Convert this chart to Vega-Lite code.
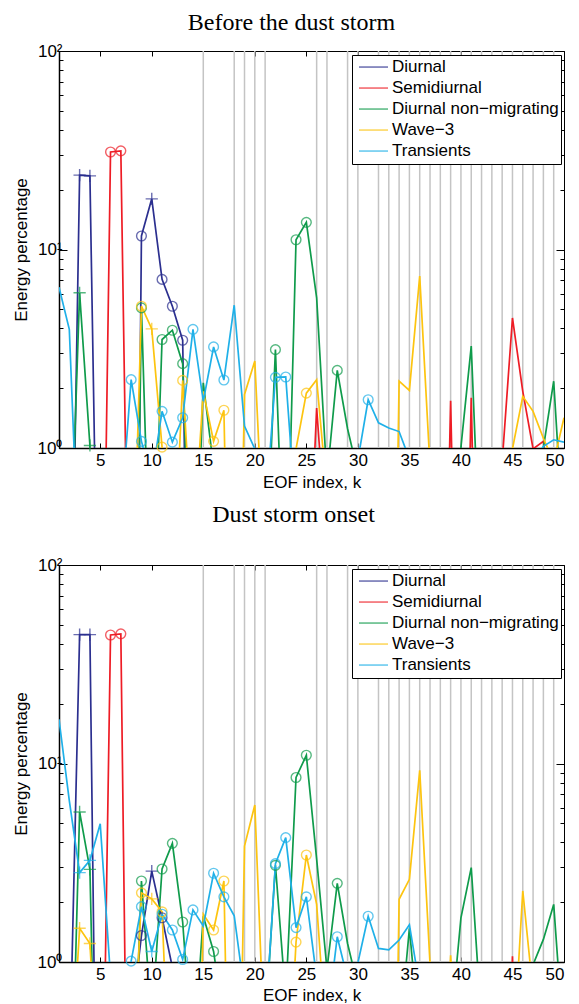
{
  "$schema": "https://vega.github.io/schema/vega-lite/v6.json",
  "padding": {"left": 11, "top": 10, "right": 0, "bottom": 0},
  "spacing": 11,
  "config": {
    "view": {"stroke": "black", "strokeWidth": 1},
    "axis": {"labelFont": "Liberation Sans", "labelFontSize": 17, "labelColor": "black", "titleFont": "Liberation Sans", "titleFontSize": 17, "titleFontWeight": "normal", "titleColor": "black", "grid": false, "tickColor": "black", "domainColor": "black"},
    "title": {"font": "Liberation Serif", "fontSize": 24, "fontWeight": "normal", "color": "black"},
    "legend": {"orient": "top-right", "offset": 3.5, "title": null, "symbolType": "stroke", "symbolSize": 841, "symbolStrokeWidth": 1.5, "labelFont": "Liberation Sans", "labelFontSize": 17, "labelColor": "black", "fillColor": "white", "strokeColor": "black", "padding": 2, "rowPadding": 0, "clipHeight": 20.1, "labelOffset": 3, "symbolOffset": 4, "labelLimit": 300}
  },
  "datasets": {
    "g": [{"k":15},{"k":18},{"k":19},{"k":20},{"k":21},{"k":26},{"k":27},{"k":29},{"k":30},{"k":32},{"k":33},{"k":34},{"k":35},{"k":36},{"k":37},{"k":38},{"k":39},{"k":40},{"k":41},{"k":42},{"k":43},{"k":44},{"k":45},{"k":46},{"k":47},{"k":48},{"k":49}],
    "top": [
      {"s":"Diurnal","k":2,"v":0.02},
      {"s":"Diurnal","k":3,"v":23.7,"m":"+"},
      {"s":"Diurnal","k":4,"v":23.5,"m":"+"},
      {"s":"Diurnal","k":5,"v":0.02},
      {"s":"Diurnal","k":8,"v":0.00005},
      {"s":"Diurnal","k":9,"v":11.7,"m":"o"},
      {"s":"Diurnal","k":10,"v":18.0,"m":"+"},
      {"s":"Diurnal","k":11,"v":7.07,"m":"o"},
      {"s":"Diurnal","k":12,"v":5.18,"m":"o"},
      {"s":"Diurnal","k":13,"v":3.49,"m":"o"},
      {"s":"Diurnal","k":14,"v":0.002},
      {"s":"Semidiurnal","k":5,"v":0.009},
      {"s":"Semidiurnal","k":6,"v":31.0,"m":"o"},
      {"s":"Semidiurnal","k":7,"v":31.4,"m":"o"},
      {"s":"Semidiurnal","k":8,"v":0.015},
      {"s":"Semidiurnal","k":25,"v":0.1},
      {"s":"Semidiurnal","k":26,"v":1.59},
      {"s":"Semidiurnal","k":27,"v":0.3},
      {"s":"Semidiurnal","k":38,"v":0.007},
      {"s":"Semidiurnal","k":39,"v":1.73},
      {"s":"Semidiurnal","k":40,"v":0.007},
      {"s":"Semidiurnal","k":41,"v":1.79},
      {"s":"Semidiurnal","k":42,"v":0.007},
      {"s":"Semidiurnal","k":44,"v":0.85},
      {"s":"Semidiurnal","k":45,"v":4.52},
      {"s":"Semidiurnal","k":46,"v":1.93},
      {"s":"Semidiurnal","k":47,"v":0.99},
      {"s":"Semidiurnal","k":48,"v":1.08},
      {"s":"Semidiurnal","k":49,"v":0.3},
      {"s":"Diurnal non−migrating","k":2,"v":0.17},
      {"s":"Diurnal non−migrating","k":3,"v":6.05,"m":"+"},
      {"s":"Diurnal non−migrating","k":4,"v":1.03,"m":"+"},
      {"s":"Diurnal non−migrating","k":5,"v":0.01},
      {"s":"Diurnal non−migrating","k":8,"v":0.0015},
      {"s":"Diurnal non−migrating","k":9,"v":5.08,"m":"o"},
      {"s":"Diurnal non−migrating","k":10,"v":0.1},
      {"s":"Diurnal non−migrating","k":11,"v":3.52,"m":"o"},
      {"s":"Diurnal non−migrating","k":12,"v":3.92,"m":"o"},
      {"s":"Diurnal non−migrating","k":13,"v":2.66,"m":"o"},
      {"s":"Diurnal non−migrating","k":14,"v":0.07},
      {"s":"Diurnal non−migrating","k":15,"v":2.13},
      {"s":"Diurnal non−migrating","k":16,"v":0.8},
      {"s":"Diurnal non−migrating","k":21,"v":0.18},
      {"s":"Diurnal non−migrating","k":22,"v":3.13,"m":"o"},
      {"s":"Diurnal non−migrating","k":23,"v":0.12},
      {"s":"Diurnal non−migrating","k":24,"v":11.2,"m":"o"},
      {"s":"Diurnal non−migrating","k":25,"v":13.7,"m":"o"},
      {"s":"Diurnal non−migrating","k":26,"v":5.71},
      {"s":"Diurnal non−migrating","k":27,"v":0.7},
      {"s":"Diurnal non−migrating","k":28,"v":2.46,"m":"o"},
      {"s":"Diurnal non−migrating","k":29,"v":1.25},
      {"s":"Diurnal non−migrating","k":30,"v":0.75},
      {"s":"Diurnal non−migrating","k":39,"v":0.01},
      {"s":"Diurnal non−migrating","k":40,"v":1.01},
      {"s":"Diurnal non−migrating","k":41,"v":3.26},
      {"s":"Diurnal non−migrating","k":42,"v":0.17},
      {"s":"Diurnal non−migrating","k":47,"v":0.5},
      {"s":"Diurnal non−migrating","k":48,"v":1.0},
      {"s":"Diurnal non−migrating","k":49,"v":2.17},
      {"s":"Diurnal non−migrating","k":50,"v":0.31},
      {"s":"Wave−3","k":8,"v":0.085},
      {"s":"Wave−3","k":9,"v":5.18,"m":"o"},
      {"s":"Wave−3","k":10,"v":3.98,"m":"+"},
      {"s":"Wave−3","k":11,"v":1.01,"m":"o"},
      {"s":"Wave−3","k":12,"v":0.16},
      {"s":"Wave−3","k":13,"v":2.19,"m":"o"},
      {"s":"Wave−3","k":14,"v":0.3},
      {"s":"Wave−3","k":15,"v":1.93},
      {"s":"Wave−3","k":16,"v":1.08,"m":"o"},
      {"s":"Wave−3","k":17,"v":1.55,"m":"o"},
      {"s":"Wave−3","k":18,"v":0.005},
      {"s":"Wave−3","k":19,"v":1.86},
      {"s":"Wave−3","k":20,"v":2.74},
      {"s":"Wave−3","k":21,"v":0.22},
      {"s":"Wave−3","k":23,"v":0.01},
      {"s":"Wave−3","k":24,"v":0.99},
      {"s":"Wave−3","k":25,"v":1.89,"m":"o"},
      {"s":"Wave−3","k":26,"v":2.21},
      {"s":"Wave−3","k":27,"v":0.59},
      {"s":"Wave−3","k":33,"v":0.001},
      {"s":"Wave−3","k":34,"v":2.17},
      {"s":"Wave−3","k":35,"v":1.95},
      {"s":"Wave−3","k":36,"v":7.34},
      {"s":"Wave−3","k":37,"v":0.8},
      {"s":"Wave−3","k":44,"v":0.5},
      {"s":"Wave−3","k":45,"v":0.99},
      {"s":"Wave−3","k":46,"v":1.82},
      {"s":"Wave−3","k":47,"v":1.53},
      {"s":"Wave−3","k":48,"v":1.12},
      {"s":"Wave−3","k":49,"v":0.85},
      {"s":"Wave−3","k":50,"v":1.42},
      {"s":"Transients","k":1,"v":6.46},
      {"s":"Transients","k":2,"v":3.96},
      {"s":"Transients","k":3,"v":0.2},
      {"s":"Transients","k":7,"v":0.45},
      {"s":"Transients","k":8,"v":2.21,"m":"o"},
      {"s":"Transients","k":9,"v":1.08,"m":"o"},
      {"s":"Transients","k":10,"v":0.7},
      {"s":"Transients","k":11,"v":1.53,"m":"o"},
      {"s":"Transients","k":12,"v":1.07,"m":"o"},
      {"s":"Transients","k":13,"v":1.42,"m":"o"},
      {"s":"Transients","k":14,"v":3.96,"m":"o"},
      {"s":"Transients","k":15,"v":1.72},
      {"s":"Transients","k":16,"v":3.23,"m":"o"},
      {"s":"Transients","k":17,"v":2.2,"m":"o"},
      {"s":"Transients","k":18,"v":5.24},
      {"s":"Transients","k":19,"v":1.29},
      {"s":"Transients","k":20,"v":0.99},
      {"s":"Transients","k":21,"v":0.44},
      {"s":"Transients","k":22,"v":2.27,"m":"o"},
      {"s":"Transients","k":23,"v":2.28,"m":"o"},
      {"s":"Transients","k":24,"v":0.44},
      {"s":"Transients","k":30,"v":0.87},
      {"s":"Transients","k":31,"v":1.75,"m":"o"},
      {"s":"Transients","k":32,"v":1.34},
      {"s":"Transients","k":33,"v":1.26},
      {"s":"Transients","k":34,"v":1.21},
      {"s":"Transients","k":35,"v":0.88},
      {"s":"Transients","k":47,"v":0.85},
      {"s":"Transients","k":48,"v":1.02},
      {"s":"Transients","k":49,"v":1.1},
      {"s":"Transients","k":50,"v":1.07}
    ],
    "bot": [
      {"s":"Diurnal","k":2,"v":0.26},
      {"s":"Diurnal","k":3,"v":44.6,"m":"+"},
      {"s":"Diurnal","k":4,"v":44.6,"m":"+"},
      {"s":"Diurnal","k":5,"v":0.003},
      {"s":"Diurnal","k":8,"v":0.49},
      {"s":"Diurnal","k":9,"v":1.36,"m":"o"},
      {"s":"Diurnal","k":10,"v":2.87,"m":"+"},
      {"s":"Diurnal","k":11,"v":1.67,"m":"o"},
      {"s":"Diurnal","k":12,"v":0.94},
      {"s":"Diurnal","k":13,"v":0.5},
      {"s":"Semidiurnal","k":5,"v":0.022},
      {"s":"Semidiurnal","k":6,"v":44.4,"m":"o"},
      {"s":"Semidiurnal","k":7,"v":45.0,"m":"o"},
      {"s":"Semidiurnal","k":8,"v":0.003},
      {"s":"Semidiurnal","k":44,"v":0.01},
      {"s":"Semidiurnal","k":45,"v":1.07},
      {"s":"Semidiurnal","k":46,"v":0.01},
      {"s":"Diurnal non−migrating","k":2,"v":0.07},
      {"s":"Diurnal non−migrating","k":3,"v":5.7,"m":"+"},
      {"s":"Diurnal non−migrating","k":4,"v":2.93,"m":"+"},
      {"s":"Diurnal non−migrating","k":5,"v":0.014},
      {"s":"Diurnal non−migrating","k":8,"v":0.11},
      {"s":"Diurnal non−migrating","k":9,"v":2.56,"m":"o"},
      {"s":"Diurnal non−migrating","k":10,"v":0.5},
      {"s":"Diurnal non−migrating","k":11,"v":2.94,"m":"o"},
      {"s":"Diurnal non−migrating","k":12,"v":3.96,"m":"o"},
      {"s":"Diurnal non−migrating","k":13,"v":1.59,"m":"o"},
      {"s":"Diurnal non−migrating","k":14,"v":0.3},
      {"s":"Diurnal non−migrating","k":15,"v":1.7},
      {"s":"Diurnal non−migrating","k":16,"v":1.13,"m":"o"},
      {"s":"Diurnal non−migrating","k":17,"v":0.5},
      {"s":"Diurnal non−migrating","k":21,"v":0.47},
      {"s":"Diurnal non−migrating","k":22,"v":3.07,"m":"o"},
      {"s":"Diurnal non−migrating","k":23,"v":0.65},
      {"s":"Diurnal non−migrating","k":24,"v":8.5,"m":"o"},
      {"s":"Diurnal non−migrating","k":25,"v":11.0,"m":"o"},
      {"s":"Diurnal non−migrating","k":26,"v":3.3},
      {"s":"Diurnal non−migrating","k":27,"v":0.92},
      {"s":"Diurnal non−migrating","k":28,"v":2.49,"m":"o"},
      {"s":"Diurnal non−migrating","k":29,"v":1.24},
      {"s":"Diurnal non−migrating","k":30,"v":0.75},
      {"s":"Diurnal non−migrating","k":34,"v":0.4},
      {"s":"Diurnal non−migrating","k":35,"v":1.48},
      {"s":"Diurnal non−migrating","k":36,"v":0.4},
      {"s":"Diurnal non−migrating","k":39,"v":0.46},
      {"s":"Diurnal non−migrating","k":40,"v":1.67},
      {"s":"Diurnal non−migrating","k":41,"v":2.99},
      {"s":"Diurnal non−migrating","k":42,"v":0.48},
      {"s":"Diurnal non−migrating","k":47,"v":0.97},
      {"s":"Diurnal non−migrating","k":48,"v":1.3},
      {"s":"Diurnal non−migrating","k":49,"v":1.95},
      {"s":"Diurnal non−migrating","k":50,"v":0.37},
      {"s":"Wave−3","k":2,"v":0.2},
      {"s":"Wave−3","k":3,"v":1.48,"m":"+"},
      {"s":"Wave−3","k":4,"v":1.24,"m":"+"},
      {"s":"Wave−3","k":5,"v":0.15},
      {"s":"Wave−3","k":8,"v":0.15},
      {"s":"Wave−3","k":9,"v":2.23,"m":"o"},
      {"s":"Wave−3","k":10,"v":2.08,"m":"+"},
      {"s":"Wave−3","k":11,"v":1.79,"m":"o"},
      {"s":"Wave−3","k":12,"v":0.1},
      {"s":"Wave−3","k":14,"v":0.007},
      {"s":"Wave−3","k":15,"v":1.74},
      {"s":"Wave−3","k":16,"v":1.45,"m":"o"},
      {"s":"Wave−3","k":17,"v":2.56,"m":"o"},
      {"s":"Wave−3","k":18,"v":0.005},
      {"s":"Wave−3","k":19,"v":3.84},
      {"s":"Wave−3","k":20,"v":6.18},
      {"s":"Wave−3","k":21,"v":0.3},
      {"s":"Wave−3","k":23,"v":0.13},
      {"s":"Wave−3","k":24,"v":1.26,"m":"o"},
      {"s":"Wave−3","k":25,"v":3.46,"m":"o"},
      {"s":"Wave−3","k":26,"v":1.95},
      {"s":"Wave−3","k":27,"v":0.37},
      {"s":"Wave−3","k":33,"v":0.001},
      {"s":"Wave−3","k":34,"v":2.07},
      {"s":"Wave−3","k":35,"v":2.61},
      {"s":"Wave−3","k":36,"v":9.24},
      {"s":"Wave−3","k":37,"v":0.98},
      {"s":"Wave−3","k":38,"v":0.1},
      {"s":"Wave−3","k":39,"v":1.08},
      {"s":"Wave−3","k":40,"v":0.1},
      {"s":"Wave−3","k":45,"v":0.29},
      {"s":"Wave−3","k":46,"v":2.28},
      {"s":"Wave−3","k":47,"v":0.7},
      {"s":"Transients","k":1,"v":16.7},
      {"s":"Transients","k":2,"v":6.5},
      {"s":"Transients","k":3,"v":2.82,"m":"+"},
      {"s":"Transients","k":4,"v":3.25,"m":"+"},
      {"s":"Transients","k":5,"v":4.97},
      {"s":"Transients","k":6,"v":0.84},
      {"s":"Transients","k":7,"v":0.3},
      {"s":"Transients","k":8,"v":1.01,"m":"o"},
      {"s":"Transients","k":9,"v":1.9,"m":"o"},
      {"s":"Transients","k":10,"v":1.13,"m":"+"},
      {"s":"Transients","k":11,"v":1.74,"m":"o"},
      {"s":"Transients","k":12,"v":1.45,"m":"o"},
      {"s":"Transients","k":13,"v":1.03,"m":"o"},
      {"s":"Transients","k":14,"v":1.83,"m":"o"},
      {"s":"Transients","k":15,"v":1.52},
      {"s":"Transients","k":16,"v":2.8,"m":"o"},
      {"s":"Transients","k":17,"v":2.13,"m":"o"},
      {"s":"Transients","k":18,"v":1.71},
      {"s":"Transients","k":19,"v":0.7},
      {"s":"Transients","k":21,"v":0.47},
      {"s":"Transients","k":22,"v":3.13,"m":"o"},
      {"s":"Transients","k":23,"v":4.23,"m":"o"},
      {"s":"Transients","k":24,"v":1.49,"m":"o"},
      {"s":"Transients","k":25,"v":2.13,"m":"o"},
      {"s":"Transients","k":26,"v":0.83},
      {"s":"Transients","k":27,"v":0.5},
      {"s":"Transients","k":28,"v":1.34,"m":"o"},
      {"s":"Transients","k":29,"v":0.82},
      {"s":"Transients","k":30,"v":0.99},
      {"s":"Transients","k":31,"v":1.7,"m":"o"},
      {"s":"Transients","k":32,"v":1.17},
      {"s":"Transients","k":33,"v":1.15},
      {"s":"Transients","k":34,"v":1.29},
      {"s":"Transients","k":35,"v":1.54},
      {"s":"Transients","k":36,"v":0.75}
    ]
  },
  "resolve": {"scale": {"color": "independent", "shape": "independent", "size": "independent"}, "legend": {"color": "independent"}},
  "vconcat": [
    {
      "width": 505, "height": 397,
      "title": {"text": "Before the dust storm", "dx": -20, "offset": 7},
      "resolve": {"axis": {"x": "independent", "y": "independent"}},
      "layer": [
        {
          "data": {"name": "g"},
          "mark": {"type": "rule", "color": "#c4c4c4", "strokeWidth": 1.5},
          "encoding": {
            "x": {"field": "k", "type": "quantitative", "scale": {"domain": [1, 50], "nice": false, "zero": false},
                  "axis": {"orient": "top", "values": [5,10,15,20,25,30,35,40,45,50], "labels": false, "title": null, "tickSize": -5, "domain": false}}
          }
        },
        {
          "data": {"name": "top"},
          "mark": {"type": "line", "clip": true, "strokeWidth": 1.7},
          "encoding": {
            "x": {"field": "k", "type": "quantitative", "scale": {"domain": [1, 50], "nice": false, "zero": false},
                  "axis": {"orient": "bottom", "values": [5,10,15,20,25,30,35,40,45,50], "title": "EOF index, k", "tickSize": -5, "labelPadding": 9, "titlePadding": 6, "domainWidth": 1.5}},
            "y": {"field": "v", "type": "quantitative", "scale": {"type": "log", "domain": [1, 100], "nice": false},
                  "axis": {"orient": "left", "values": [1,2,3,4,5,6,7,8,9,10,20,30,40,50,60,70,80,90,100], "title": "Energy percentage",
                           "labelExpr": "datum.value == 1 ? '10⁰' : datum.value == 10 ? '10¹' : datum.value == 100 ? '10²' : ''",
                           "tickSize": {"condition": {"test": "datum.value == 1 || datum.value == 10 || datum.value == 100", "value": -8}, "value": -4},
                           "labelPadding": 5, "titlePadding": 7, "domainWidth": 1.5}},
            "color": {"field": "s", "type": "nominal",
                      "scale": {"domain": ["Diurnal", "Semidiurnal", "Diurnal non−migrating", "Wave−3", "Transients"], "range": ["#2b2f8f", "#ee1c25", "#0f9b4b", "#fdc40f", "#1fb0e8"]}},
            "order": {"field": "k", "type": "quantitative"}
          }
        },
        {
          "data": {"name": "top"},
          "transform": [{"filter": "isValid(datum.m)"}],
          "mark": {"type": "point", "filled": false, "strokeWidth": 1.4},
          "encoding": {
            "x": {"field": "k", "type": "quantitative", "scale": {"domain": [1, 50], "nice": false, "zero": false}, "axis": null},
            "y": {"field": "v", "type": "quantitative", "scale": {"type": "log", "domain": [1, 100], "nice": false},
                  "axis": {"orient": "right", "values": [1,2,3,4,5,6,7,8,9,10,20,30,40,50,60,70,80,90,100], "labels": false, "title": null, "domain": false,
                           "tickSize": {"condition": {"test": "datum.value == 1 || datum.value == 10 || datum.value == 100", "value": -8}, "value": -4}}},
            "color": {"field": "s", "type": "nominal"},
            "shape": {"field": "m", "type": "nominal", "scale": {"domain": ["o", "+"], "range": ["circle", "M-1,0L1,0M0,-1L0,1"]}, "legend": null},
            "size": {"field": "m", "type": "nominal", "scale": {"domain": ["o", "+"], "range": [95, 150]}, "legend": null}
          }
        }
      ]
    },
    {
      "width": 505, "height": 397,
      "title": {"text": "Dust storm onset", "dx": -18, "offset": 29},
      "resolve": {"axis": {"x": "independent", "y": "independent"}},
      "layer": [
        {
          "data": {"name": "g"},
          "mark": {"type": "rule", "color": "#c4c4c4", "strokeWidth": 1.5},
          "encoding": {
            "x": {"field": "k", "type": "quantitative", "scale": {"domain": [1, 50], "nice": false, "zero": false},
                  "axis": {"orient": "top", "values": [5,10,15,20,25,30,35,40,45,50], "labels": false, "title": null, "tickSize": -5, "domain": false}}
          }
        },
        {
          "data": {"name": "bot"},
          "mark": {"type": "line", "clip": true, "strokeWidth": 1.7},
          "encoding": {
            "x": {"field": "k", "type": "quantitative", "scale": {"domain": [1, 50], "nice": false, "zero": false},
                  "axis": {"orient": "bottom", "values": [5,10,15,20,25,30,35,40,45,50], "title": "EOF index, k", "tickSize": -5, "labelPadding": 9, "titlePadding": 5, "domainWidth": 1.5}},
            "y": {"field": "v", "type": "quantitative", "scale": {"type": "log", "domain": [1, 100], "nice": false},
                  "axis": {"orient": "left", "values": [1,2,3,4,5,6,7,8,9,10,20,30,40,50,60,70,80,90,100], "title": "Energy percentage",
                           "labelExpr": "datum.value == 1 ? '10⁰' : datum.value == 10 ? '10¹' : datum.value == 100 ? '10²' : ''",
                           "tickSize": {"condition": {"test": "datum.value == 1 || datum.value == 10 || datum.value == 100", "value": -8}, "value": -4},
                           "labelPadding": 5, "titlePadding": 7, "domainWidth": 1.5}},
            "color": {"field": "s", "type": "nominal",
                      "scale": {"domain": ["Diurnal", "Semidiurnal", "Diurnal non−migrating", "Wave−3", "Transients"], "range": ["#2b2f8f", "#ee1c25", "#0f9b4b", "#fdc40f", "#1fb0e8"]}},
            "order": {"field": "k", "type": "quantitative"}
          }
        },
        {
          "data": {"name": "bot"},
          "transform": [{"filter": "isValid(datum.m)"}],
          "mark": {"type": "point", "filled": false, "strokeWidth": 1.4},
          "encoding": {
            "x": {"field": "k", "type": "quantitative", "scale": {"domain": [1, 50], "nice": false, "zero": false}, "axis": null},
            "y": {"field": "v", "type": "quantitative", "scale": {"type": "log", "domain": [1, 100], "nice": false},
                  "axis": {"orient": "right", "values": [1,2,3,4,5,6,7,8,9,10,20,30,40,50,60,70,80,90,100], "labels": false, "title": null, "domain": false,
                           "tickSize": {"condition": {"test": "datum.value == 1 || datum.value == 10 || datum.value == 100", "value": -8}, "value": -4}}},
            "color": {"field": "s", "type": "nominal"},
            "shape": {"field": "m", "type": "nominal", "scale": {"domain": ["o", "+"], "range": ["circle", "M-1,0L1,0M0,-1L0,1"]}, "legend": null},
            "size": {"field": "m", "type": "nominal", "scale": {"domain": ["o", "+"], "range": [95, 150]}, "legend": null}
          }
        }
      ]
    }
  ]
}
